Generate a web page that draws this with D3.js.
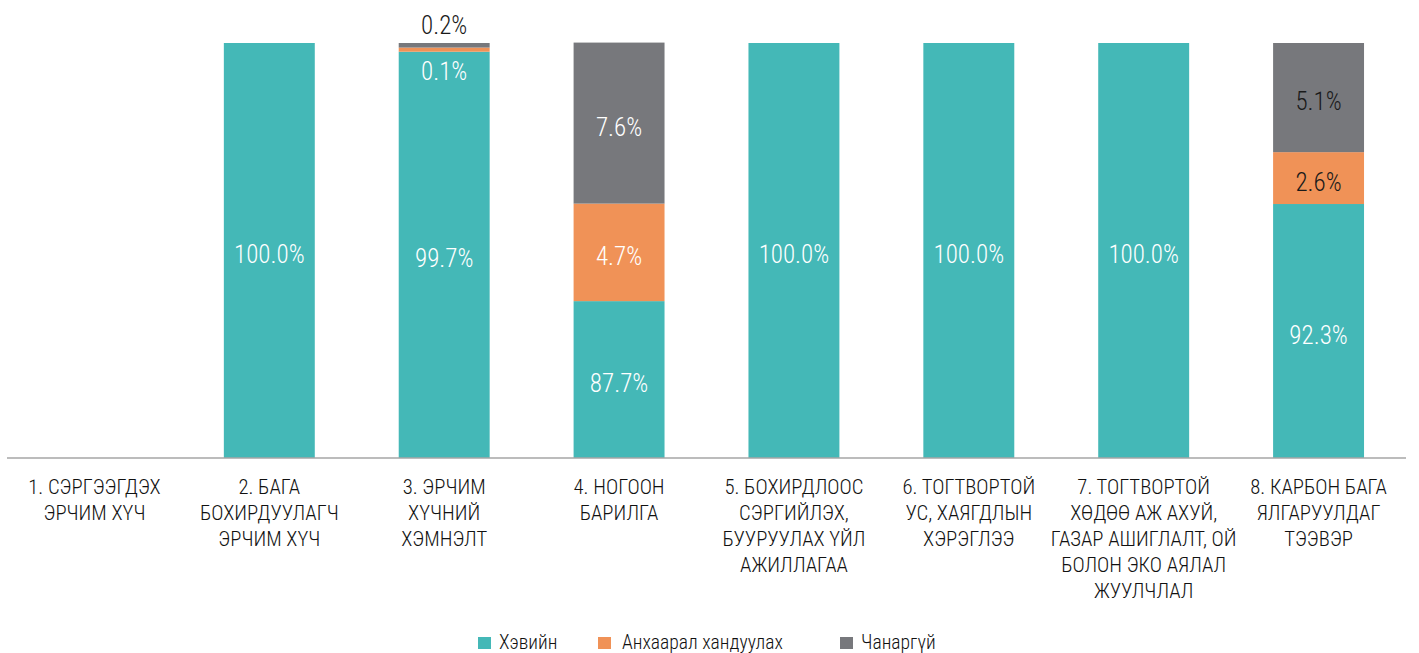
<!DOCTYPE html>
<html lang="mn">
<head>
<meta charset="UTF-8" />
<title>Ангилал тус бүрийн төлөв</title>
<script src="https://d3js.org/d3.v7.min.js"></script>
<style>
  body { margin: 0; background: #fff; }
  svg { display: block; }
  text { font-family: "Roboto Condensed", "Liberation Sans Narrow", "DejaVu Sans Condensed", sans-serif; font-weight: 300; }
  .cat { font-size: 20.7px; fill: #111; text-anchor: middle; }
  .val { font-size: 25px; text-anchor: middle; }
  .leg { font-size: 19.6px; fill: #111; }
</style>
</head>
<body>
<div id="chart"></div>
<script>
// categories (label lines as drawn)
const categories = [
  ["1. СЭРГЭЭГДЭХ", "ЭРЧИМ ХҮЧ"],
  ["2. БАГА", "БОХИРДУУЛАГЧ", "ЭРЧИМ ХҮЧ"],
  ["3. ЭРЧИМ", "ХҮЧНИЙ", "ХЭМНЭЛТ"],
  ["4. НОГООН", "БАРИЛГА"],
  ["5. БОХИРДЛООС", "СЭРГИЙЛЭХ,", "БУУРУУЛАХ ҮЙЛ", "АЖИЛЛАГАА"],
  ["6. ТОГТВОРТОЙ", "УС, ХАЯГДЛЫН", "ХЭРЭГЛЭЭ"],
  ["7. ТОГТВОРТОЙ", "ХӨДӨӨ АЖ АХУЙ,", "ГАЗАР АШИГЛАЛТ, ОЙ", "БОЛОН ЭКО АЯЛАЛ", "ЖУУЛЧЛАЛ"],
  ["8. КАРБОН БАГА", "ЯЛГАРУУЛДАГ", "ТЭЭВЭР"]
];
const seriesNames = ["Хэвийн", "Анхаарал хандуулах", "Чанаргүй"];

// segment heights (share of bar, %) as drawn
const normalShare    = [0, 100, 97.9, 37.8, 100, 100, 100, 61.2];
const attentionShare = [0,   0,  1.0, 23.5,   0,   0,   0, 12.5];
const poorShare      = [0,   0,  1.1, 38.8,   0,   0,   0, 26.3];

// printed labels
const normalLabels    = [null, "100.0%", "99.7%", "87.7%", "100.0%", "100.0%", "100.0%", "92.3%"];
const attentionLabels = [null, null, "0.1%", "4.7%", null, null, null, "2.6%"];
const poorLabels      = [null, null, "0.2%", "7.6%", null, null, null, "5.1%"];

const colors = ["#44b8b7", "#f09257", "#77787c"];
const darkLabelBars = [7]; // bar whose upper labels are printed dark

const width = 1419, height = 653;
const margin = { top: 43, right: 13, bottom: 195, left: 7 };
const innerW = width - margin.left - margin.right;
const innerH = height - margin.top - margin.bottom;

const svg = d3.select("#chart").append("svg")
  .attr("width", width).attr("height", height);
const g = svg.append("g").attr("transform", `translate(${margin.left},${margin.top})`);

const x = d3.scaleBand().domain(d3.range(categories.length))
  .range([0, innerW]).paddingInner(0.48).paddingOuter(0.24);
const y = d3.scaleLinear().domain([0, 100]).range([innerH, 0]);

const rows = categories.map((c, i) => ({
  i, s0: normalShare[i], s1: attentionShare[i], s2: poorShare[i]
}));
const labels = [normalLabels, attentionLabels, poorLabels];
const stack = d3.stack().keys(["s0", "s1", "s2"])(rows);

stack.forEach((layer, k) => {
  g.append("g").selectAll("rect")
    .data(layer.filter(d => d[1] > d[0]))
    .join("rect")
    .attr("x", d => x(d.data.i))
    .attr("width", x.bandwidth())
    .attr("y", d => y(d[1]))
    .attr("height", d => y(d[0]) - y(d[1]))
    .attr("fill", colors[k]);
});

// value labels
stack.forEach((layer, k) => {
  layer.forEach(d => {
    const txt = labels[k][d.data.i];
    if (!txt) return;
    const top = y(d[1]), bot = y(d[0]);
    let cy = (top + bot) / 2, fill = "#fff";
    if (bot - top < 20) {
      // tiny segments: label outside the segment
      if (k === 2) { cy = top - 22; fill = "#1a1a1a"; }
      else { cy = bot + 16; }
    } else if (k > 0 && darkLabelBars.includes(d.data.i)) {
      fill = "#1a1a1a";
    }
    g.append("text").attr("class", "val")
      .attr("x", x(d.data.i) + x.bandwidth() / 2)
      .attr("y", cy).attr("dy", "0.5em")
      .attr("fill", fill).text(txt);
  });
});

// axis baseline
g.append("line")
  .attr("x1", 0).attr("x2", innerW)
  .attr("y1", innerH).attr("y2", innerH)
  .attr("stroke", "#a6a6a6").attr("stroke-width", 1.5);

// category labels
const cats = g.append("g").selectAll("text").data(categories).join("text")
  .attr("class", "cat")
  .attr("transform", (d, i) => `translate(${x(i) + x.bandwidth() / 2},${innerH + 36})`);
cats.selectAll("tspan").data(d => d).join("tspan")
  .attr("x", 0).attr("y", (d, j) => j * 26).text(d => d);

// legend
const legendX = [478, 598, 840];
const leg = svg.append("g").selectAll("g").data(seriesNames).join("g")
  .attr("transform", (d, i) => `translate(${legendX[i]},637)`);
leg.append("rect").attr("width", 13).attr("height", 12).attr("fill", (d, i) => colors[i]);
leg.append("text").attr("class", "leg").attr("x", (d, i) => i === 1 ? 24 : 21).attr("y", 12).text(d => d);
</script>
</body>
</html>
